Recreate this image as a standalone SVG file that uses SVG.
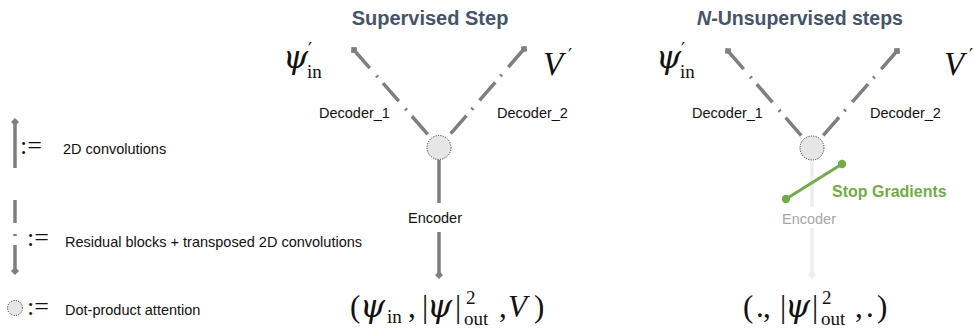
<svg xmlns="http://www.w3.org/2000/svg" width="974" height="335" viewBox="0 0 974 335">
<style>
.title{font-family:"Liberation Sans",Arial,sans-serif;font-weight:bold;font-size:20px;fill:#44546a}
.lbl{font-family:"Liberation Sans",Arial,sans-serif;font-size:14.5px;fill:#111}
.leg{font-family:"Liberation Sans",Arial,sans-serif;font-size:14.5px;fill:#111}
.defn{font-family:"Liberation Serif","Times New Roman",serif;font-size:26px;fill:#111}
.math{font-family:"Liberation Serif","Times New Roman",serif;font-size:31px;fill:#111}
.mi{font-style:italic}
.psi{font-family:"DejaVu Serif",serif;font-style:italic;font-size:32px}
.pr{font-family:"DejaVu Serif",serif;font-size:18px}
.sm{font-size:19px}
.arm{stroke:#7f7f7f;stroke-width:3.5;fill:none;stroke-dasharray:24 10 2 8}
.solid{stroke:#7f7f7f;stroke-width:3.5;fill:none}
.faint{stroke:#eeeeee;stroke-width:3.5;fill:none}
.att{fill:#e6e6e6;stroke:#222;stroke-width:1;stroke-dasharray:1 1.4}
.green{stroke:#70ad47;stroke-width:3;fill:none}
</style>
<defs>
<marker id="dia" markerUnits="userSpaceOnUse" markerWidth="10" markerHeight="10" viewBox="-5 -5 10 10" refX="0" refY="0" orient="auto">
<path d="M-4,0 L0,-4 L4,0 L0,4 Z" fill="#7f7f7f"/>
</marker>
<marker id="diaF" markerUnits="userSpaceOnUse" markerWidth="10" markerHeight="10" viewBox="-5 -5 10 10" refX="0" refY="0" orient="auto">
<path d="M-4,0 L0,-4 L4,0 L0,4 Z" fill="#eeeeee"/>
</marker>
</defs>

<!-- Titles -->
<text class="title" x="430" y="25" text-anchor="middle">Supervised Step</text>
<text class="title" x="800" y="25" text-anchor="middle" style="font-size:19.5px"><tspan font-style="italic">N</tspan>-Unsupervised steps</text>

<!-- Legend -->
<g id="legend">
<line class="solid" x1="15" y1="122" x2="15" y2="168" marker-start="url(#dia)"/>
<text class="defn" x="20" y="154">:=</text>
<text class="leg" x="63" y="154">2D convolutions</text>
<line class="solid" x1="15" y1="200" x2="15" y2="223"/>
<line class="solid" x1="15" y1="234" x2="15" y2="236"/>
<line class="solid" x1="15" y1="245" x2="15" y2="271" marker-end="url(#dia)"/>
<text class="defn" x="27" y="246">:=</text>
<text class="leg" x="65" y="247">Residual blocks + transposed 2D convolutions</text>
<circle class="att" cx="15" cy="308" r="7.5"/>
<text class="defn" x="27" y="315">:=</text>
<text class="leg" x="65" y="315">Dot-product attention</text>
</g>

<!-- Connectors -->
<g id="connectors">
<path class="arm" d="M354,50 L431,138" marker-start="url(#dia)"/>
<path class="arm" d="M524,49 L447,138" marker-start="url(#dia)"/>
<line class="solid" x1="439" y1="160" x2="439" y2="203"/>
<line class="solid" x1="439" y1="232" x2="439" y2="275" marker-end="url(#dia)"/>
<path class="arm" d="M728,51 L804.6,139.5" marker-start="url(#dia)"/>
<path class="arm" d="M897,51 L820,139" marker-start="url(#dia)"/>
<line class="faint" x1="812" y1="161" x2="812" y2="207"/>
<line class="faint" x1="812" y1="228" x2="812" y2="275" marker-end="url(#diaF)"/>
</g>

<!-- Supervised nodes -->
<g id="sup-attention"><circle class="att" cx="439" cy="147.5" r="12"/></g>
<g id="sup-psi"><text class="math"><tspan class="psi" x="283" y="68">ψ</tspan><tspan class="pr" x="308" y="56">′</tspan><tspan class="sm" x="307" y="78">in</tspan></text></g>
<g id="sup-v"><text class="math"><tspan class="mi" x="543" y="75" style="font-size:33px">V</tspan><tspan class="pr" x="568" y="62">′</tspan></text></g>
<g id="sup-dec1"><text class="lbl" x="319" y="118">Decoder_1</text></g>
<g id="sup-dec2"><text class="lbl" x="497" y="118">Decoder_2</text></g>
<g id="sup-enc"><text class="lbl" x="435" y="223" text-anchor="middle">Encoder</text></g>
<g id="sup-input">
<text class="math"><tspan x="350" y="317">(</tspan><tspan class="psi" x="360" y="317">ψ</tspan><tspan class="sm" x="387" y="323">in</tspan><tspan x="408" y="317">,</tspan><tspan x="422" y="317">|</tspan><tspan class="psi" x="427" y="317">ψ</tspan><tspan x="455" y="317">|</tspan><tspan class="sm" x="466" y="304">2</tspan><tspan class="sm" x="464" y="325">out</tspan><tspan x="499" y="317">,</tspan><tspan class="mi" x="508" y="317">V</tspan><tspan x="534" y="317">)</tspan></text>
</g>

<!-- Unsupervised nodes -->
<g id="uns-attention"><circle class="att" cx="812" cy="148" r="12"/></g>
<g id="uns-psi"><text class="math"><tspan class="psi" x="656" y="68">ψ</tspan><tspan class="pr" x="681" y="56">′</tspan><tspan class="sm" x="680" y="78">in</tspan></text></g>
<g id="uns-v"><text class="math"><tspan class="mi" x="944" y="75" style="font-size:33px">V</tspan><tspan class="pr" x="969" y="62">′</tspan></text></g>
<g id="uns-dec1"><text class="lbl" x="692" y="118">Decoder_1</text></g>
<g id="uns-dec2"><text class="lbl" x="870" y="118">Decoder_2</text></g>
<g id="uns-enc"><text class="lbl" x="809" y="224" text-anchor="middle" style="fill:#a6a6a6">Encoder</text></g>
<g id="stop-gradients">
<line class="green" x1="786" y1="199" x2="842" y2="164"/>
<circle cx="786" cy="199" r="4.2" fill="#70ad47"/>
<circle cx="842" cy="164" r="4.2" fill="#70ad47"/>
<text x="832" y="197" style="font-family:'Liberation Sans',Arial,sans-serif;font-weight:bold;font-size:16px;fill:#70ad47">Stop Gradients</text>
</g>
<g id="uns-input">
<text class="math"><tspan x="743" y="317">(</tspan><tspan x="756" y="317">.</tspan><tspan x="763" y="317">,</tspan><tspan x="780" y="317">|</tspan><tspan class="psi" x="785" y="317">ψ</tspan><tspan x="812" y="317">|</tspan><tspan class="sm" x="822" y="304">2</tspan><tspan class="sm" x="821" y="325">out</tspan><tspan x="855" y="317">,</tspan><tspan x="866" y="317">.</tspan><tspan x="877" y="317">)</tspan></text>
</g>
</svg>
